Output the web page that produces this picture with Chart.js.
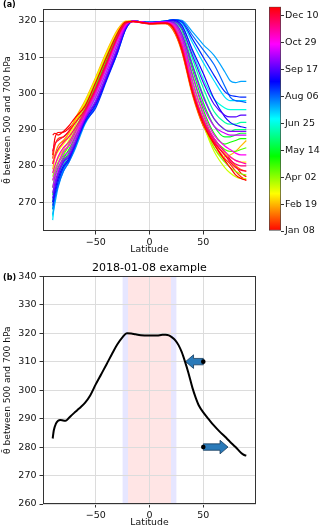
<!DOCTYPE html>
<html>
<head>
<meta charset="utf-8">
<script src="https://cdn.jsdelivr.net/npm/chart.js@4.4.0/dist/chart.umd.min.js"></script>
<style>
body{margin:0;background:#fff;width:320px;height:528px;position:relative;overflow:hidden;font-family:"DejaVu Sans",sans-serif}
canvas{position:absolute}
.tag{position:absolute;font-weight:bold;font-size:8px;color:#000;line-height:10px}
</style>
</head>
<body>
<canvas id="lines" width="262" height="258" style="left:0;top:0"></canvas>
<canvas id="cbar" width="62" height="258" style="left:258px;top:0"></canvas>
<canvas id="example" width="262" height="268" style="left:0;top:260px"></canvas>
<div class="tag" style="left:3px;top:0">(a)</div>
<div class="tag" style="left:3px;top:273px">(b)</div>
<script>
const LAT = [-90,-88,-85,-80,-75,-70,-60,-50,-40,-30,-22,-15,0,15,22,30,40,50,60,70,75,80,85,90];
const DATES = ['Jan 08','Jan 22','Feb 05','Feb 19','Mar 05','Mar 19','Apr 02','Apr 16','Apr 30','May 14','May 28','Jun 11','Jun 25',
               'Jul 09','Jul 23','Aug 06','Aug 20','Sep 03','Sep 17','Oct 01','Oct 15','Oct 29','Nov 12','Nov 26','Dec 10','Dec 24'];
const DAYS = [0,14,28,42,56,70,84,98,112,126,140,154,168,182,196,210,224,238,252,266,280,294,308,322,336,350];
const THETA = [
  [283,287.5,289.2,289.3,290.3,292,295.5,302,309,316,319.8,319.8,319.2,319.4,318.2,313,301,292.2,287.5,283.7,281.8,280,278,277],
  [282,285.5,287.5,288,289.5,292,296.5,303,310,316.5,319.7,319.9,319.3,319.3,317.5,312,300,291,286,282,280.5,278.5,277,276],
  [280.5,283,285.5,287,289,292,297.5,304,311,317,319.8,320,319.3,319.3,317.5,311.5,299.5,291,286.5,283,281.5,280,279,278.5],
  [279,282,284.5,286.5,289,292.5,298,304.5,311.5,317.5,320,320,319.4,319.5,318,312,300,291.5,285,282.5,283,284,285.5,287],
  [281,282.5,284,286,288,291.5,297.5,304,311,317,319.8,320,319.4,319.5,318.3,312.5,300.5,292,286,283.5,282.5,281.5,281,281],
  [278,280,282,284.5,287,290.5,297,303.5,310.5,316.5,319.7,320,319.4,319.6,318.5,313,301,291.5,284,279.5,278,277,276.5,276.5],
  [277,279,281,283.5,286,289.5,296,303,310,316.5,319.6,320,319.5,319.6,318.7,313.5,302,292.5,285,281,279.5,278.5,277.8,277.5],
  [276,278,280.5,283,285.5,288.5,295.5,302,309.5,316,319.5,320,319.5,319.7,319,314.5,303.5,294,287.5,284.5,284,284,284.5,285],
  [274,277,279.5,282,284.5,287.5,294.5,301.5,308.5,315.5,319.2,320,319.5,319.8,319.4,315.5,305,295.5,289,286,286.5,287,287.5,287.5],
  [272,275.5,278,281.5,283.5,287,294,300.5,308,315,319,320,319.5,319.9,319.7,316.5,306.5,297.5,291,288,288,288.5,289,289],
  [270,274.5,277.5,281,283,286,293.5,300,307,314.5,318.8,320,319.6,320,319.9,317.5,308,299.5,293,290,289.5,290,290,290],
  [268,273.5,277,280.5,282.5,285.5,293,299,306,313.5,318.5,320,319.6,320,320,318.2,309.5,301.5,295,292,291.5,291.5,292,292],
  [266,272,276,279.5,282,285,292.5,298,305,312.5,318.2,320,319.6,320,320.2,319,311.5,304,298.5,296,295.5,295.5,295.5,295.5],
  [265,270.5,275,279,281.5,284.5,292,297,304.5,312,318,320,319.6,320,320.3,319.5,314,308.5,303.5,299,298,298,298,298],
  [266.5,269.5,274,278.5,281,284,291.5,296.5,304,311.5,318,320,319.6,320,320.4,320.2,317,313.5,310.5,306,303.5,303,303.3,303.3],
  [268,271,274.5,278.5,281,284.5,292,296.5,304,311,317.8,320,319.6,320,320.4,320,316,312,308,302,299,298,297.8,297.5],
  [269,272,275.5,279.5,281.5,285,292,296,303.5,311,317.8,320,319.6,320,320.3,319.7,315,310,305,300.5,299.5,299.2,299,299],
  [270,273,276.5,280,282,285.5,292.5,297,304,311.5,318,320,319.6,319.9,320.2,318.8,312,305.5,298.5,293.5,292,291.2,290.8,290.5],
  [271,274,277.5,281,282.5,285.5,293,297.5,304.5,312,318.2,320,319.5,319.9,320,318,310.5,303,297,294,293.5,293.5,294,294],
  [272.5,275,278,281.5,283,286,293,298,305,312.5,318.5,320,319.5,319.8,319.7,316.5,307.5,299,293,290,289.5,289.5,289.5,289.5],
  [274,276.5,279,282.5,284,287,293.5,299,306,313.5,318.8,320,319.5,319.7,319.3,315.5,305,296.5,291,289,288.5,288.5,288.5,288.5],
  [276,278,280.5,284,285.5,288,294,300,307,314.5,319,320,319.4,319.6,319,314.5,303,294.5,288.5,285.5,284.5,283.5,283,283],
  [278,280,282.5,285,286.5,289,294.5,300.5,307.5,315,319.2,319.9,319.4,319.5,318.6,313.5,301.5,293,287.5,284,282.5,281.5,281,280.5],
  [280.5,282.5,284.5,286.5,288,290,295,301,308,315.5,319.4,319.8,319.3,319.5,318.4,313,301,292.5,287,283,281.5,280.5,280,280],
  [284,286,287,288,289.5,291.5,295.5,301.5,308.5,315.5,319.5,319.8,319.3,319.4,318.2,312.5,300.5,292,286.5,283,281,279.5,278.8,278.5],
  [288.5,289,288.5,289.5,291,293,296.5,303,310,316.5,319.8,319.9,319.3,319.4,318,312,300,291.5,286,281.5,279.5,277.5,276.5,276]
];
const X_TICKS = [-50, 0, 50];
const Y_TICKS_A = [270, 280, 290, 300, 310, 320];
const CB_TICK_DAYS = [0, 42, 84, 126, 168, 210, 252, 294, 336];
const CB_TICK_LABELS = ['Jan 08','Feb 19','Apr 02','May 14','Jun 25','Aug 06','Sep 17','Oct 29','Dec 10'];

// panel (b): 2018-01-08 profile
const EX_LAT = [-90,-89,-87,-85,-83,-80,-78,-75,-72,-70,-67,-64,-60,-55,-50,-45,-40,-35,-30,-25,-21,-17,-13,-8,0,7,12,15,18,21,24,27,30,33,36,40,43,46,50,55,60,65,70,75,80,85,88,90];
const EX_THETA = [283,285.8,288.2,289.2,289.5,289.3,289.2,290.2,291.3,292,293,294,295.5,298.2,302,305.5,309,312.6,316,318.6,320,319.9,319.6,319.3,319.2,319.2,319.4,319.4,319.2,318.5,317.5,315.8,313.3,310,306.3,300.7,297.3,294.5,292.2,289.8,287.5,285.5,283.7,281.8,280,278,277.2,277];
const Y_TICKS_B = [260, 270, 280, 290, 300, 310, 320, 330, 340];
const BAND_OUTER = [-25, 25];
const BAND_INNER = [-20, 20];
const ARROW_Y = [310, 280];
const ARROW_FROM = [50, 50];
const ARROW_TO = [33.5, 73];

Chart.defaults.font.family = '"DejaVu Sans", sans-serif';
Chart.defaults.font.size = 9.5;
Chart.defaults.color = '#111';

const YTITLE = 'θ̄ between 500 and 700 hPa';
const hue = t => 'hsl(' + (360 * t).toFixed(1) + ',100%,50%)';
const fmt = v => v < 0 ? '\u2212' + Math.abs(v) : String(v);

const frame = {
  id: 'frame',
  afterDraw(c) {
    const a = c.chartArea, x = c.ctx;
    x.save();
    x.strokeStyle = '#333';
    x.lineWidth = 1;
    x.strokeRect(Math.round(a.left) + 0.5, Math.round(a.top) + 0.5, Math.round(a.right - a.left) - 1, Math.round(a.bottom - a.top) - 1);
    x.restore();
  }
};

function axes(yTicks, min, max, w, h) {
  return {
    x: {
      type: 'linear', min: -99, max: 99,
      afterBuildTicks: s => { s.ticks = X_TICKS.map(v => ({value: v})); },
      afterFit: s => { s.height = h; },
      ticks: {callback: fmt, padding: 2, maxRotation: 0},
      grid: {color: '#dcdcdc', tickColor: '#333', tickLength: 3.5},
      border: {display: false},
      title: {display: true, text: 'Latitude', font: {size: 9.3}, padding: {top: 0, bottom: 0}}
    },
    y: {
      min: min, max: max,
      afterBuildTicks: s => { s.ticks = yTicks.map(v => ({value: v})); },
      afterFit: s => { s.width = w; },
      ticks: {padding: 3},
      grid: {color: '#dcdcdc', tickColor: '#333', tickLength: 3.5},
      border: {display: false},
      title: {display: true, text: YTITLE, font: {size: 9.1}, padding: {top: 2, bottom: 0}}
    }
  };
}

// panel (a)
const lineSets = THETA.map((row, k) => ({
  data: row.map((v, i) => ({x: LAT[i], y: v})),
  borderColor: hue(DAYS[k] / 350),
  borderWidth: 1.2,
  pointRadius: 0,
  cubicInterpolationMode: 'monotone',
  order: DAYS.length - k
}));
const scA = axes(Y_TICKS_A, 262, 323.4, 43, 27);
scA.x.title.padding = {top: 0, bottom: 2.4};
new Chart(document.getElementById('lines'), {
  type: 'line',
  data: {datasets: lineSets},
  options: {
    responsive: false, animation: false, devicePixelRatio: 1,
    layout: {padding: {left: 0, right: 6, top: 4, bottom: 0}},
    plugins: {legend: {display: false}, tooltip: {enabled: false}},
    scales: scA
  },
  plugins: [frame]
});

// colour bar
new Chart(document.getElementById('cbar'), {
  type: 'bar',
  data: {labels: [''], datasets: [{
    data: [[0, 350]],
    backgroundColor: c => {
      const a = c.chart.chartArea;
      if (!a) return 'red';
      const g = c.chart.ctx.createLinearGradient(0, a.bottom, 0, a.top);
      for (let i = 0; i <= 24; i++) g.addColorStop(i / 24, hue(i / 24));
      return g;
    },
    borderColor: '#444', borderWidth: 1, borderSkipped: false,
    barPercentage: 1, categoryPercentage: 1
  }]},
  options: {
    responsive: false, animation: false, devicePixelRatio: 1,
    layout: {padding: {left: 11, right: 0, top: 4, bottom: 27}},
    plugins: {legend: {display: false}, tooltip: {enabled: false}},
    scales: {
      x: {display: false},
      y: {
        position: 'right', min: 0, max: 350,
        afterBuildTicks: s => { s.ticks = CB_TICK_DAYS.map(v => ({value: v})); },
        afterFit: s => { s.width = 39; },
        ticks: {padding: 1, callback: v => CB_TICK_LABELS[CB_TICK_DAYS.indexOf(v)]},
        grid: {display: true, drawOnChartArea: false, tickColor: '#333', tickLength: 3},
        border: {display: false}
      }
    }
  }
});

// panel (b)
const bands = {
  id: 'bands',
  beforeDraw(c) {
    const xs = c.scales.x, a = c.chartArea, x = c.ctx;
    x.save();
    x.fillStyle = 'rgb(230,230,255)';
    x.fillRect(xs.getPixelForValue(BAND_OUTER[0]), a.top, xs.getPixelForValue(BAND_OUTER[1]) - xs.getPixelForValue(BAND_OUTER[0]), a.bottom - a.top);
    x.fillStyle = 'rgb(255,229,229)';
    x.fillRect(xs.getPixelForValue(BAND_INNER[0]), a.top, xs.getPixelForValue(BAND_INNER[1]) - xs.getPixelForValue(BAND_INNER[0]), a.bottom - a.top);
    x.restore();
  }
};
const arrows = {
  id: 'arrows',
  beforeDatasetsDraw(c) {
    const xs = c.scales.x, ys = c.scales.y, x = c.ctx;
    x.save();
    ARROW_Y.forEach((yv, i) => {
      const x0 = xs.getPixelForValue(ARROW_FROM[i]), x1 = xs.getPixelForValue(ARROW_TO[i]), y = ys.getPixelForValue(yv);
      const d = Math.sign(x1 - x0), hl = 8, hh = 6.8, sh = 3.2;
      const xb = x1 - d * hl;
      x.beginPath();
      x.moveTo(x0, y - sh); x.lineTo(xb, y - sh); x.lineTo(xb, y - hh); x.lineTo(x1, y);
      x.lineTo(xb, y + hh); x.lineTo(xb, y + sh); x.lineTo(x0, y + sh); x.closePath();
      x.fillStyle = '#2a7ab9';
      x.fill();
      x.strokeStyle = '#163b5c';
      x.lineWidth = 0.8;
      x.stroke();
    });
    x.restore();
  }
};
const scB = axes(Y_TICKS_B, 260, 340, 43, 24);
new Chart(document.getElementById('example'), {
  type: 'line',
  data: {datasets: [
    {data: EX_LAT.map((v, i) => ({x: v, y: EX_THETA[i]})), borderColor: '#000', borderWidth: 2, pointRadius: 0, cubicInterpolationMode: 'monotone'},
    {type: 'scatter', data: ARROW_FROM.map((v, i) => ({x: v, y: ARROW_Y[i]})), pointRadius: 2.3, backgroundColor: '#000', borderColor: '#000', pointBorderWidth: 0}
  ]},
  options: {
    responsive: false, animation: false, devicePixelRatio: 1,
    layout: {padding: {left: 0, right: 6, top: 0, bottom: 0}},
    plugins: {
      legend: {display: false}, tooltip: {enabled: false},
      title: {display: true, text: '2018-01-08 example', fullSize: false, color: '#000', font: {size: 11, weight: 'normal'}, padding: {top: 2, bottom: 1}}
    },
    scales: scB
  },
  plugins: [bands, arrows, frame]
});
</script>
</body>
</html>
